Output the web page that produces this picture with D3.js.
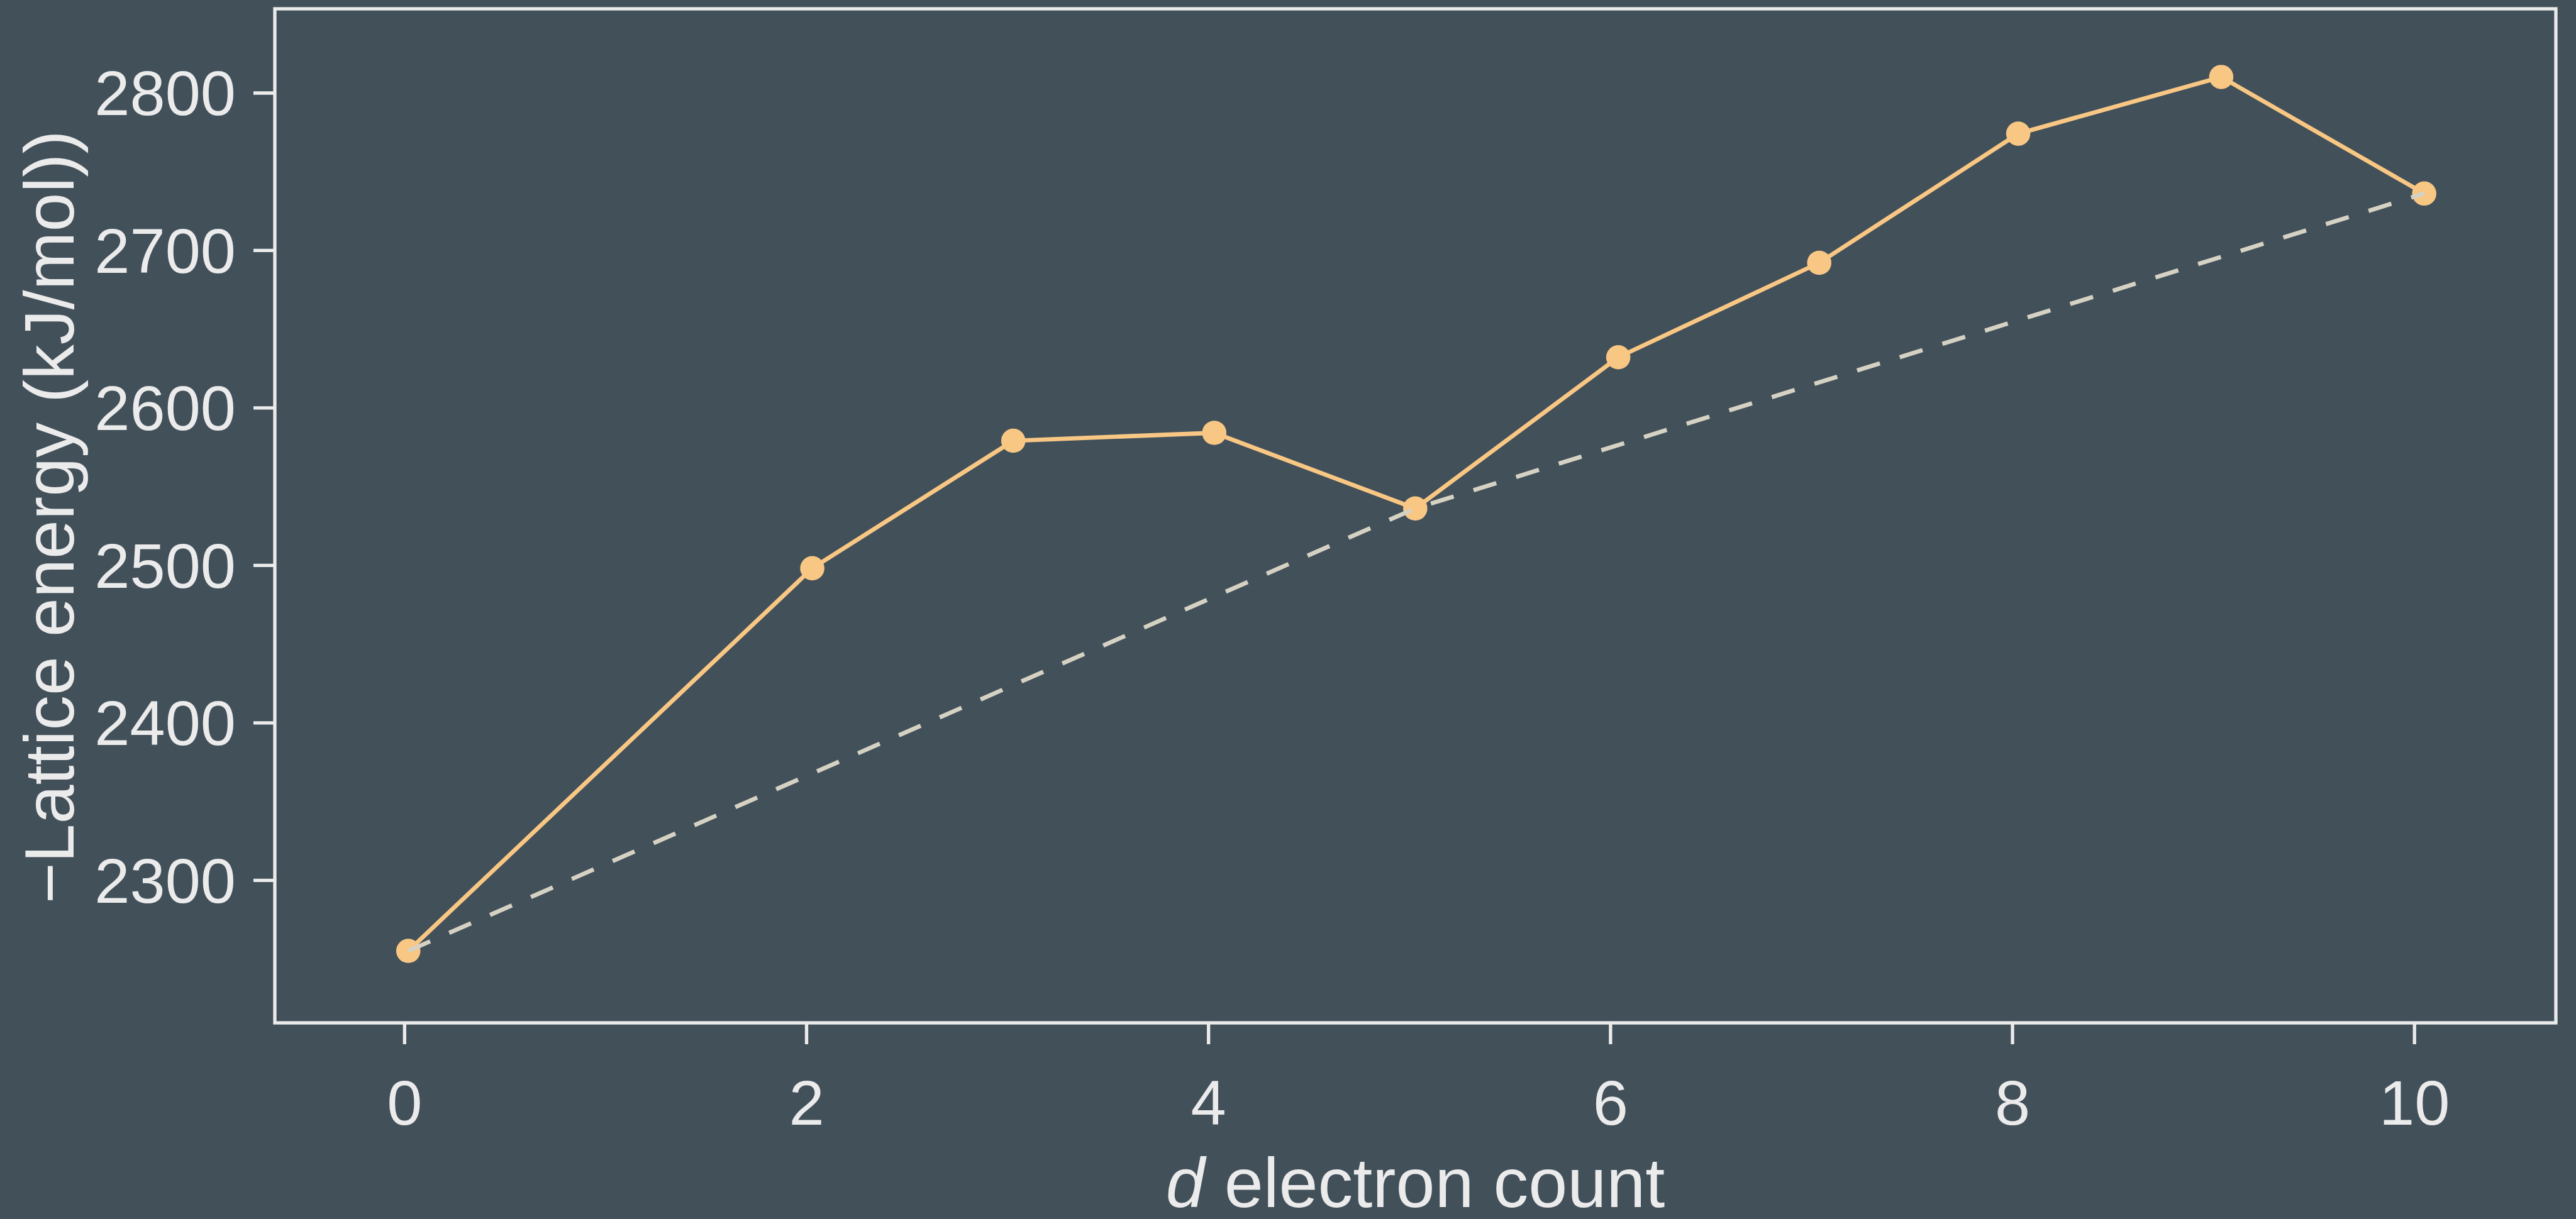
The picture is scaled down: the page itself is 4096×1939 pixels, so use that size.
<!DOCTYPE html>
<html>
<head>
<meta charset="utf-8">
<script src="https://cdn.jsdelivr.net/npm/d3@7"></script>
<style>
  html, body { margin: 0; padding: 0; background: #42505a; overflow: hidden; }
  svg { display: block; }
  .tick-label { font-family: "Liberation Sans", Arial, sans-serif; fill: #ebebeb; }
  .axis-label { font-family: "Liberation Sans", Arial, sans-serif; fill: #ebebeb; }
</style>
</head>
<body>
<svg id="chart"></svg>
<script>
// d electron count (points sit a hair right of the integer ticks in the original)
const electronCount = [0.02, 2.03, 3.03, 4.03, 5.03, 6.04, 7.04, 8.03, 9.04, 10.05];
// -lattice energy, kJ/mol
const latticeEnergy = [2255, 2498, 2579, 2584, 2536, 2632, 2692, 2774, 2810, 2736];
// spherical d0 / d5 / d10 reference points (indices into the series)
const baselineIdx = [0, 4, 9];
const xTicks = [0, 2, 4, 6, 8, 10];
const yTicks = [2300, 2400, 2500, 2600, 2700, 2800];

const W = 4096, H = 1939;
const COLORS = {
    bg: '#42505a',
    fg: '#ebebeb',
    line: '#f9c784',
    ref: '#d5d2c3'
};

// plot frame in window pixels
const frame = { left: 437, right: 4064, top: 14, bottom: 1627 };

const svg = d3.select('#chart').attr('width', W).attr('height', H);
svg.append('rect').attr('width', W).attr('height', H).attr('fill', COLORS.bg);

const x = d3.scaleLinear().domain([-0.644, 10.705]).range([frame.left, frame.right]);
const y = d3.scaleLinear().domain([2209.3, 2853.3]).range([frame.bottom, frame.top]);

const data = electronCount.map((d, i) => ({ n: d, e: latticeEnergy[i] }));

// axes (outward ticks, labels styled separately)
const xAxis = d3.axisBottom(x).tickValues(xTicks).tickSize(34).tickPadding(24).tickFormat(d3.format('d'));
const yAxis = d3.axisLeft(y).tickValues(yTicks).tickSize(34).tickPadding(28).tickFormat(d3.format('d'));

const gx = svg.append('g')
    .attr('transform', `translate(0,${frame.bottom})`)
    .call(xAxis);
const gy = svg.append('g')
    .attr('transform', `translate(${frame.left},0)`)
    .call(yAxis);

[gx, gy].forEach(g => {
    g.select('.domain').remove();
    g.selectAll('.tick line').attr('stroke', COLORS.fg).attr('stroke-width', 5.3);
    g.selectAll('.tick text')
        .attr('class', 'tick-label')
        .attr('font-size', 101)
        .attr('fill', COLORS.fg);
});
gx.selectAll('.tick text').attr('dy', null).attr('y', 162);
gy.selectAll('.tick text').attr('dy', '0.35em');

// frame box
svg.append('rect')
    .attr('x', frame.left)
    .attr('y', frame.top)
    .attr('width', frame.right - frame.left)
    .attr('height', frame.bottom - frame.top)
    .attr('fill', 'none')
    .attr('stroke', COLORS.fg)
    .attr('stroke-width', 5.3);

// measured series
const line = d3.line().x(d => x(d.n)).y(d => y(d.e));
svg.append('path')
    .datum(data)
    .attr('d', line)
    .attr('fill', 'none')
    .attr('stroke', COLORS.line)
    .attr('stroke-width', 6.8)
    .attr('stroke-linejoin', 'round');

svg.selectAll('.dot')
    .data(data)
    .join('circle')
    .attr('class', 'dot')
    .attr('cx', d => x(d.n))
    .attr('cy', d => y(d.e))
    .attr('r', 19.3)
    .attr('fill', COLORS.line);

// dashed baseline through d0, d5 and d10
svg.append('path')
    .datum(baselineIdx.map(i => data[i]))
    .attr('d', line)
    .attr('fill', 'none')
    .attr('stroke', COLORS.ref)
    .attr('stroke-width', 6.8)
    .attr('stroke-dasharray', '38,33');

// axis titles
const xl = svg.append('text')
    .attr('class', 'axis-label')
    .attr('x', (frame.left + frame.right) / 2)
    .attr('y', 1920)
    .attr('text-anchor', 'middle')
    .attr('font-size', 111.5);
xl.append('tspan').attr('font-style', 'italic').text('d');
xl.append('tspan').text(' electron count');

svg.append('text')
    .attr('class', 'axis-label')
    .attr('transform', `translate(117,${(frame.top + frame.bottom) / 2 + 2}) rotate(-90)`)
    .attr('text-anchor', 'middle')
    .attr('font-size', 111.5)
    .text('\u2212Lattice energy (kJ/mol))');
</script>
</body>
</html>
